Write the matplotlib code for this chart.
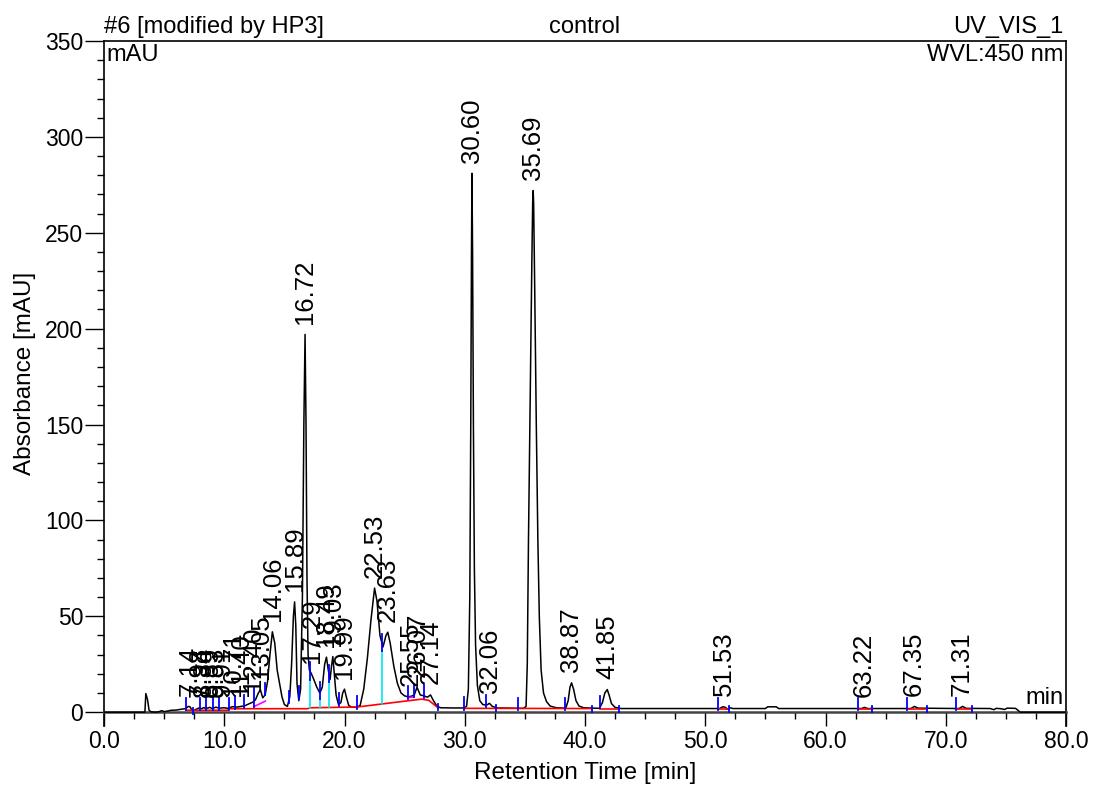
import matplotlib
matplotlib.use('Agg')

import matplotlib.pyplot as plt
import numpy as np
from matplotlib.ticker import MultipleLocator, FormatStrFormatter

plt.rcParams['font.family'] = ['Liberation Sans', 'DejaVu Sans']


# ---------- Chromatogram trace ----------

trace_t = [
    0.0, 3.4, 3.48, 3.55, 3.62, 3.75, 3.9, 4.3, 4.6, 4.8, 5.0, 5.3, 5.6, 6.0, 6.5, 6.8,
    7.0, 7.15, 7.3, 7.5, 7.7, 7.9, 8.1, 8.3, 8.5, 8.8, 9.0, 9.3, 9.6, 10.0, 10.3, 10.7,
    11.0, 11.4, 11.7, 12.0, 12.4, 12.6, 12.8, 13.0, 13.2, 13.4, 13.6, 13.8, 14.0, 14.2,
    14.4, 14.6, 14.8, 15.0, 15.25, 15.45, 15.6, 15.75, 15.85, 15.95, 16.05, 16.2, 16.35,
    16.5, 16.62, 16.72, 16.8, 16.88, 16.97, 17.08, 17.25, 17.45, 17.7, 17.95, 18.15,
    18.35, 18.5, 18.65, 18.8, 18.92, 19.03, 19.15, 19.3, 19.5, 19.7, 19.85, 20.0, 20.15,
    20.35, 20.6, 21.0, 21.3, 21.6, 21.9, 22.2, 22.5, 22.7, 22.95, 23.2, 23.45, 23.6,
    23.8, 24.1, 24.4, 24.7, 25.0, 25.3, 25.55, 25.8, 26.03, 26.3, 26.6, 26.9, 27.15,
    27.4, 27.7, 28.0, 29.0, 29.9,
    30.15, 30.3, 30.42, 30.5, 30.56, 30.6, 30.65, 30.72, 30.8, 30.9, 31.05, 31.25, 31.5,
    31.8, 32.05, 32.3, 32.7, 34.9,
    35.1, 35.2, 35.3, 35.45, 35.58, 35.65, 35.69, 35.73, 35.82, 35.95, 36.08, 36.2,
    36.35, 36.55, 36.8, 37.1, 37.6, 38.4,
    38.6, 38.75, 38.88, 39.05, 39.25, 39.5, 39.9, 41.2, 41.45, 41.65, 41.85, 42.0, 42.2,
    42.5, 43.0, 51.2, 51.45, 51.65, 51.85, 52.05, 52.3, 55.0, 55.2, 55.9, 56.1, 63.0,
    63.25, 63.5, 67.1, 67.4, 67.7, 71.1, 71.4, 71.7, 73.7, 74.0, 74.2, 74.6, 74.9, 75.1,
    75.8, 76.2, 80.0,
]
trace_mau = [
    0.0, 0.0, 9.7, 8.0, 6.5, 1.0, 0.2, 0.0, 0.3, 0.8, 0.3, 0.6, 1.0, 1.1, 1.6, 1.9,
    3.0, 2.8, 1.2, 1.0, 1.6, 2.2, 1.8, 2.4, 1.9, 2.5, 1.9, 2.6, 2.1, 2.3, 2.0, 2.9,
    2.6, 3.0, 3.3, 4.2, 5.3, 6.5, 9.5, 11.8, 7.5, 9.0, 16.0, 30.0, 41.9, 36.0,
    22.0, 15.0, 8.0, 4.0, 3.0, 8.0, 25.0, 50.0, 57.5, 45.0, 15.0, 6.0, 12.0,
    60.0, 150.0, 197.0, 150.0, 70.0, 30.0, 22.0, 20.0, 17.0, 13.0, 10.0, 13.0,
    25.0, 28.7, 22.0, 17.0, 24.0, 29.0, 20.0, 9.0, 4.0, 5.0, 10.0, 12.0, 8.0,
    3.5, 2.6, 2.5, 3.5, 12.0, 28.0, 48.0, 64.7, 58.0, 40.0, 34.0, 40.0, 41.7,
    36.0, 24.0, 15.0, 10.0, 8.5, 8.0, 8.3, 9.0, 13.0, 9.0, 8.5, 7.8, 9.0,
    6.0, 3.0, 2.3, 2.2, 2.2,
    3.0, 12.0, 60.0, 150.0, 240.0, 281.0, 240.0, 150.0, 75.0, 35.0, 14.0, 6.0, 4.0,
    3.6, 4.6, 3.0, 2.2, 2.0,
    3.0, 25.0, 90.0, 170.0, 235.0, 266.0, 272.0, 265.0, 220.0, 150.0, 90.0, 50.0,
    22.0, 10.0, 5.5, 3.2, 2.3, 2.1,
    6.0, 13.0, 15.3, 12.0, 6.0, 3.2, 2.3, 2.0, 5.0, 10.0, 11.8, 9.0, 4.5,
    2.5, 1.9, 1.9, 2.8, 2.6, 1.6, 2.3, 1.9, 1.9, 2.8, 2.8, 1.9, 1.9,
    2.5, 1.9, 1.9, 3.0, 2.1, 1.9, 3.0, 2.0, 1.9, 1.3, 2.0, 1.8, 1.4, 2.1,
    2.0, 0.0, 0.0,
]

# ---------- Peak table ----------

peak_rt = [7.14, 7.98, 8.34, 8.89, 9.33, 9.91, 10.71, 11.40, 12.40, 13.05,
           14.06, 15.89, 16.72, 17.29, 18.49, 19.03, 19.99, 22.53, 23.63,
           25.55, 26.07, 27.14, 30.60, 32.06, 35.69, 38.87, 41.85, 51.53,
           63.22, 67.35, 71.31]
peak_height = [3.0, 2.2, 2.4, 2.5, 2.6, 2.3, 2.9, 3.0, 5.3, 11.8,
               41.9, 57.5, 197.0, 20.0, 28.7, 29.0, 12.0, 64.7, 41.7,
               8.3, 13.0, 9.0, 281.0, 4.6, 272.0, 15.3, 11.8, 2.8,
               2.5, 3.0, 3.0]

# ---------- Integration marks ----------

delim_long = [6.83, 8.0, 8.5, 9.03, 9.53, 10.36, 10.92, 11.61, 13.42, 15.36,
              16.25, 19.58, 21.06, 25.28, 25.78, 26.61, 29.94, 31.75, 34.39,
              38.36, 41.28, 51.06, 62.67, 66.8, 70.86]
delim_short = [7.44, 27.78, 32.58, 40.6, 42.86, 52.0, 63.83, 68.47, 72.17]
delim_tall = [12.5]
drop_t = [17.17, 18.0, 18.72, 23.13]

red_segments = [
    [(6.83, 1.0), (10.3, 1.0), (10.4, 1.8), (16.9, 1.8), (17.2, 2.3),
     (21.06, 2.7), (26.4, 6.8), (27.0, 6.2), (27.78, 2.3)],
    [(29.94, 2.0), (40.6, 1.9)],
    [(41.28, 1.9), (42.86, 1.9)],
    [(51.06, 1.9), (52.0, 1.9)],
    [(62.67, 1.9), (63.83, 1.9)],
    [(66.8, 1.9), (68.47, 1.9)],
    [(70.86, 1.9), (72.17, 1.9)],
]
magenta_segments = [
    [(12.5, 3.0), (13.42, 5.8)],
    [(25.28, 7.6), (25.78, 7.9)],
]


# ---------- Figure ----------

fig = plt.figure(figsize=(10.93, 7.85), dpi=100)
ax = fig.add_axes([104 / 1093, 1 - 725.6 / 785, 962 / 1093, 684.6 / 785])

ax.plot(trace_t, trace_mau, color='black', lw=1.1, zorder=3)

for seg in red_segments:
    ts, ys = zip(*seg)
    ax.plot(ts, ys, color='#ff0000', lw=1.2, zorder=4)
for seg in magenta_segments:
    ts, ys = zip(*seg)
    ax.plot(ts, ys, color='#ff00ff', lw=1.2, zorder=4)

base_t = [p[0] for seg in red_segments for p in seg]
base_y = [p[1] for seg in red_segments for p in seg]

for t in delim_long:
    y = np.interp(t, trace_t, trace_mau)
    ax.plot([t, t], [y - 1.0, y + 5.5], color='#0000ff', lw=1.3, zorder=5)
for t in delim_short:
    y = np.interp(t, trace_t, trace_mau)
    ax.plot([t, t], [y - 1.8, y + 1.2], color='#0000ff', lw=1.3, zorder=5)
for t in delim_tall:
    y = np.interp(t, trace_t, trace_mau)
    ax.plot([t, t], [y - 3.0, y + 7.0], color='#0000ff', lw=1.3, zorder=5)
for t in drop_t:
    y = np.interp(t, trace_t, trace_mau)
    b = np.interp(t, base_t, base_y)
    ax.plot([t, t], [b, y - 4], color='#00e5ee', lw=1.2, zorder=4)
    ax.plot([t, t], [y - 4, y + 5], color='#0000ff', lw=1.3, zorder=5)

for rt, h in zip(peak_rt, peak_height):
    ax.text(rt, h + 5.5, f"{rt:.2f}", rotation=90, ha='center', va='bottom',
            fontsize=18.5, zorder=6)

# ---------- Axes styling ----------

ax.set_xlim(0, 80)
ax.set_ylim(-7, 350)
ax.spines['bottom'].set_position(('data', 0))
ax.spines['bottom'].set_color('#444444')
ax.spines['bottom'].set_linewidth(1.8)
for side in ['left', 'top', 'right']:
    ax.spines[side].set_linewidth(1.2)

ax.xaxis.set_major_locator(MultipleLocator(10))
ax.xaxis.set_minor_locator(MultipleLocator(2.5))
ax.xaxis.set_major_formatter(FormatStrFormatter('%.1f'))
ax.yaxis.set_major_locator(MultipleLocator(50))
ax.yaxis.set_minor_locator(MultipleLocator(10))

ax.tick_params(axis='x', which='major', length=10, width=1.0, labelsize=16.5, pad=3)
ax.tick_params(axis='x', which='minor', length=5, width=1.0)
ax.tick_params(axis='y', which='major', length=14, width=1.0, labelsize=16.5, pad=1)
ax.tick_params(axis='y', which='minor', length=5, width=1.0)

fig.text(585 / 1093, 1 - 773 / 785, 'Retention Time [min]', ha='center', va='center',
         fontsize=17.5)
fig.text(25 / 1093, 1 - 373 / 785, 'Absorbance [mAU]', ha='center', va='center',
         rotation=90, fontsize=17.5)

ax.text(0.0, 1.004, '#6 [modified by HP3]', transform=ax.transAxes,
        ha='left', va='bottom', fontsize=17)
ax.text(0.5, 1.004, 'control', transform=ax.transAxes,
        ha='center', va='bottom', fontsize=17)
ax.text(0.997, 1.004, 'UV_VIS_1', transform=ax.transAxes,
        ha='right', va='bottom', fontsize=17)
ax.text(0.003, 0.995, 'mAU', transform=ax.transAxes,
        ha='left', va='top', fontsize=17)
ax.text(0.997, 0.995, 'WVL:450 nm', transform=ax.transAxes,
        ha='right', va='top', fontsize=17)
ax.text(79.8, 1.5, 'min', ha='right', va='bottom', fontsize=17)

fig.savefig('out.png', dpi=100)
